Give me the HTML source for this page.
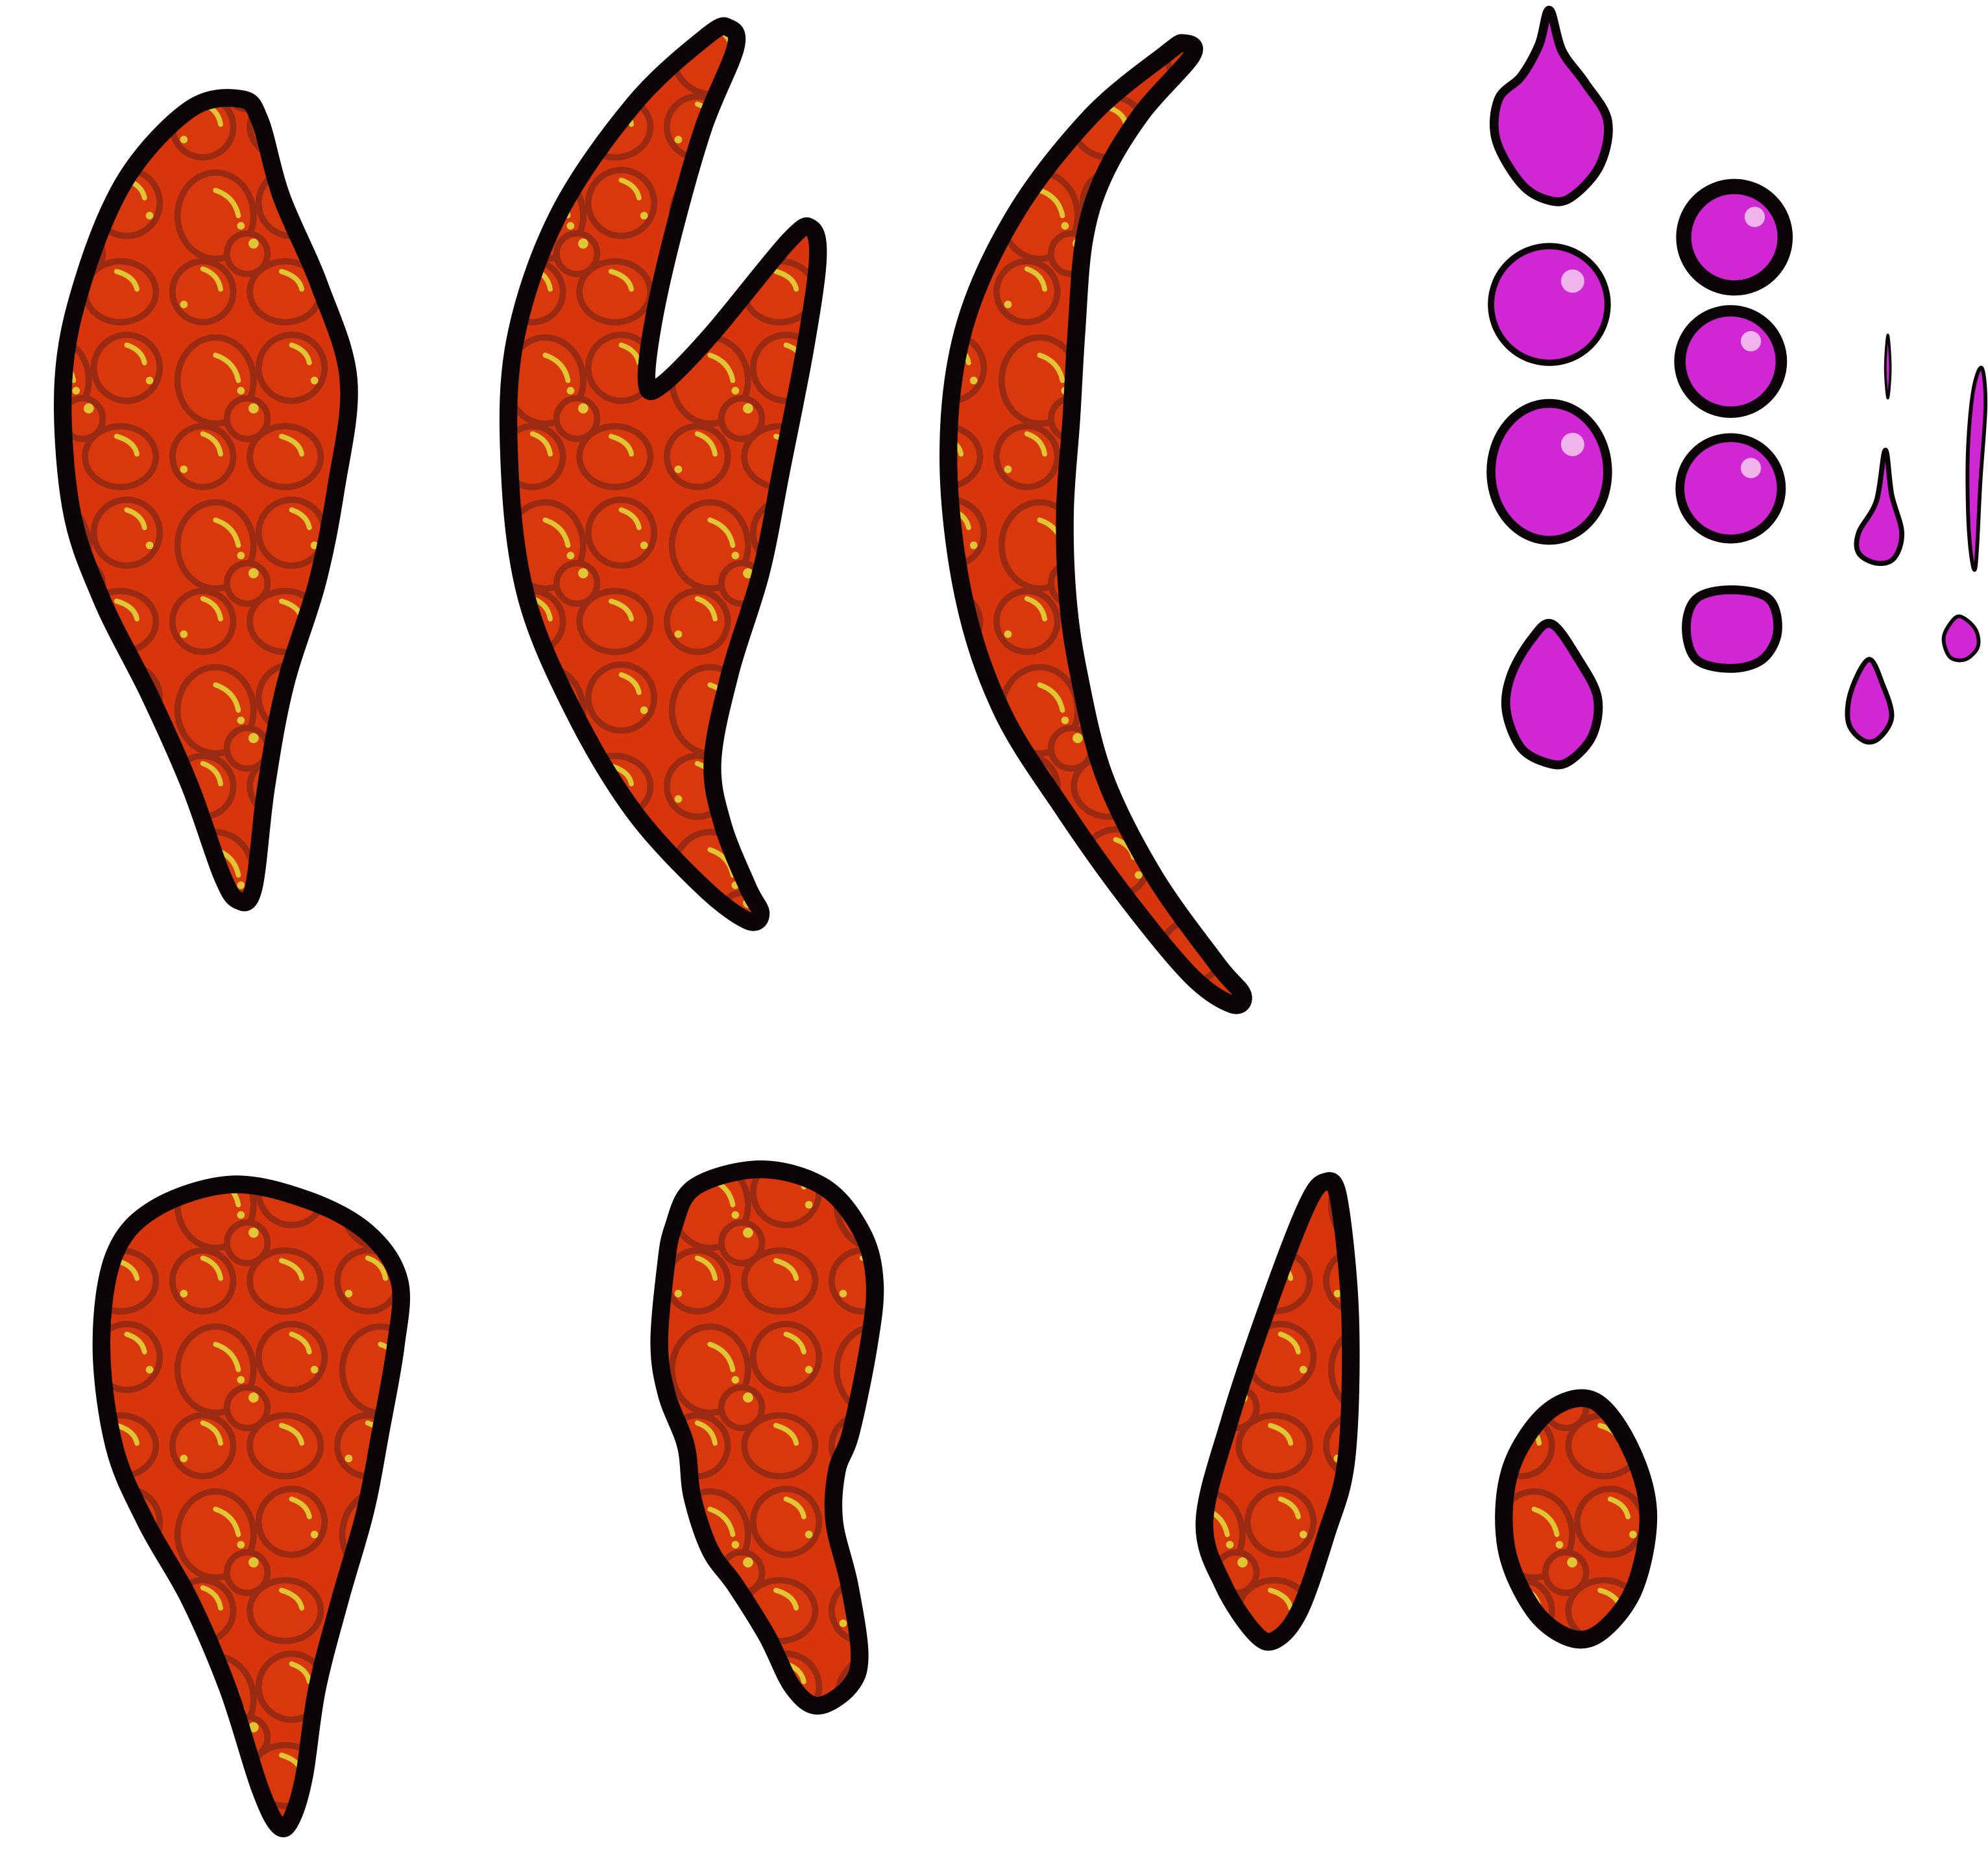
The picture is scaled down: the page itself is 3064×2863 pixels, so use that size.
<!DOCTYPE html>
<html><head><meta charset="utf-8"><style>
html,body{margin:0;padding:0;background:#fff;}
svg{display:block;}
</style></head><body>
<svg id="art" width="3064" height="2863" viewBox="0 0 1568 1465" xmlns="http://www.w3.org/2000/svg">
<defs>
<pattern id="bub" patternUnits="userSpaceOnUse" width="130" height="130">
<rect width="130" height="130" fill="#d8350c"/>
<circle cx="20" cy="20" r="6" fill="#c72bcf"/>
<circle cx="95" cy="80" r="5" fill="#c72bcf"/>
<ellipse cx="40" cy="40" rx="30" ry="34" fill="#d8380c" stroke="#9b2a12" stroke-width="5"/>
<circle cx="100" cy="30" r="26" fill="#d8380c" stroke="#9b2a12" stroke-width="5"/>
<circle cx="30" cy="100" r="24" fill="#d8380c" stroke="#9b2a12" stroke-width="5"/>
<ellipse cx="95" cy="100" rx="28" ry="24" fill="#d8380c" stroke="#9b2a12" stroke-width="5"/>
<circle cx="65" cy="70" r="16" fill="#d8380c" stroke="#9b2a12" stroke-width="5"/>
<path d="M40 20 Q55 25 58 40" fill="none" stroke="#e0c632" stroke-width="4" stroke-linecap="round"/>
<path d="M100 12 Q112 16 114 26" fill="none" stroke="#e0c632" stroke-width="4" stroke-linecap="round"/>
<path d="M30 82 Q42 86 44 98" fill="none" stroke="#e0c632" stroke-width="4" stroke-linecap="round"/>
<path d="M92 84 Q106 88 108 98" fill="none" stroke="#e0c632" stroke-width="4" stroke-linecap="round"/>
<circle cx="60" cy="48" r="3" fill="#e0c632"/>
<circle cx="118" cy="40" r="3" fill="#e0c632"/>
<circle cx="70" cy="62" r="4" fill="#e0c632"/>
<circle cx="15" cy="110" r="3" fill="#e0c632"/>
</pattern>
</defs>
<g id="shapes"></g>
</svg>
<script>
const NS='http://www.w3.org/2000/svg';
const g=document.getElementById('shapes');
function smooth(p){
  const n=p.length;let d='M'+p[0][0]+' '+p[0][1];
  for(let i=0;i<n;i++){
    const p0=p[(i-1+n)%n],p1=p[i],p2=p[(i+1)%n],p3=p[(i+2)%n];
    const c1=[p1[0]+(p2[0]-p0[0])/6,p1[1]+(p2[1]-p0[1])/6];
    const c2=[p2[0]-(p3[0]-p1[0])/6,p2[1]-(p3[1]-p1[1])/6];
    d+=' C'+c1[0].toFixed(1)+' '+c1[1].toFixed(1)+' '+c2[0].toFixed(1)+' '+c2[1].toFixed(1)+' '+p2[0]+' '+p2[1];
  }
  return d+'Z';
}
function shape(name,pts,fill,sw){
  const e=document.createElementNS(NS,'path');
  e.setAttribute('d',smooth(pts));
  e.setAttribute('fill',fill);
  e.setAttribute('stroke','#0c0508');
  e.setAttribute('stroke-width',sw);
  e.setAttribute('stroke-linejoin','round');
  
  
  g.appendChild(e);
}
function circ(name,cx,cy,rx,ry,sw){
  const e=document.createElementNS(NS,'ellipse');
  e.setAttribute('cx',cx);e.setAttribute('cy',cy);e.setAttribute('rx',rx);e.setAttribute('ry',ry);
  e.setAttribute('fill','#d126d3');e.setAttribute('stroke','#0c0508');e.setAttribute('stroke-width',sw);
  
  
  g.appendChild(e);
  const h=document.createElementNS(NS,'circle');
  h.setAttribute('cx',cx+rx*0.4);h.setAttribute('cy',cy-ry*0.4);h.setAttribute('r',Math.max(1.5,rx*0.2));
  h.setAttribute('fill','#f0b4ec');
  
  
  g.appendChild(h);
}
const R='url(#bub)';
shape('leaf-shape-1',[[190,78],[205,95],[222,155],[252,225],[275,300],[265,385],[250,460],[225,540],[210,620],[200,700],[188,710],[175,690],[150,620],[118,548],[80,472],[56,400],[50,300],[66,220],[100,140],[150,86]],R,14);
shape('claw-shape-2',[[575,22],[580,38],[555,100],[532,180],[516,250],[510,300],[520,305],[560,265],[622,190],[640,180],[645,205],[635,275],[616,372],[600,452],[576,530],[562,600],[570,650],[590,700],[600,720],[590,726],[555,700],[500,640],[452,560],[415,470],[402,370],[406,270],[440,170],[500,82],[558,28]],R,14);
shape('crescent-shape-3',[[934,34],[940,44],[900,90],[870,140],[855,190],[849,262],[845,330],[840,402],[842,470],[851,532],[871,612],[910,690],[960,760],[980,784],[972,792],[940,770],[890,710],[840,640],[790,560],[760,470],[748,360],[760,260],[800,170],[860,92],[920,42]],R,14);
shape('teardrop-shape-4',[[90,990],[122,953],[182,934],[242,946],[290,972],[315,1010],[312,1062],[300,1130],[288,1192],[268,1262],[250,1332],[240,1400],[230,1434],[220,1440],[205,1410],[180,1332],[150,1262],[115,1200],[90,1140],[80,1060]],R,14);
shape('blob-shape-5',[[548,936],[600,922],[650,936],[680,972],[690,1012],[685,1062],[671,1130],[660,1160],[658,1200],[670,1250],[678,1305],[670,1330],[645,1345],[625,1330],[605,1290],[580,1250],[560,1222],[546,1180],[541,1140],[526,1100],[520,1060],[525,1000],[531,968]],R,14);
shape('spike-shape-6',[[950,1200],[970,1120],[1000,1030],[1030,952],[1045,932],[1056,946],[1065,1040],[1062,1150],[1046,1210],[1025,1270],[1006,1293],[990,1288],[965,1250]],R,14);
shape('oval-shape-7',[[1256,1104],[1285,1140],[1300,1192],[1290,1250],[1265,1285],[1240,1292],[1210,1270],[1188,1220],[1191,1160],[1220,1114]],R,14);
shape('drop-top',[[1222,8],[1232,40],[1250,65],[1268,95],[1262,130],[1240,155],[1222,158],[1200,145],[1180,110],[1182,78],[1200,60],[1214,35]],'#d126d3',7);
circ('bubble-1',1222,240,46,46,5);
circ('bubble-2',1368,187,40,40,12);
circ('bubble-3',1365,285,40,40,9);
circ('oval-bubble',1222,372,46,54,7);
circ('bubble-4',1365,385,40,40,7);
shape('drop-mid',[[1224,492],[1245,520],[1260,550],[1256,580],[1238,600],[1222,602],[1200,590],[1188,560],[1192,532],[1208,504]],'#d126d3',7);
shape('rounded-bubble',[[1365,465],[1395,472],[1402,498],[1390,520],[1365,527],[1338,520],[1330,495],[1338,472]],'#d126d3',7);
shape('small-drop-1',[[1487,355],[1492,390],[1500,420],[1494,440],[1480,444],[1466,436],[1466,420],[1480,395]],'#d126d3',4);
shape('small-drop-2',[[1474,520],[1485,540],[1492,565],[1482,582],[1470,584],[1458,570],[1460,545]],'#d126d3',4);
shape('tiny-bubble',[[1546,486],[1558,496],[1560,510],[1550,520],[1538,518],[1533,504],[1538,492]],'#d126d3',3);
shape('thin-drop-1',[[1489,264],[1491,290],[1489,314],[1487,290]],'#d126d3',2);
shape('thin-drop-2',[[1563,290],[1566,320],[1562,380],[1558,448],[1553,420],[1552,360],[1556,310]],'#d126d3',3);
</script>
</body></html>
